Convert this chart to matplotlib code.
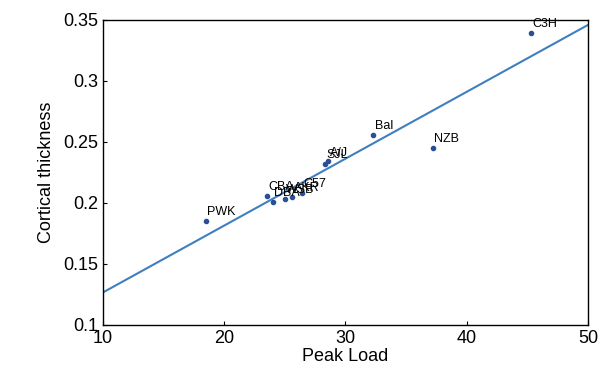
import numpy as np
import matplotlib
matplotlib.use("Agg")
import matplotlib.pyplot as plt

plt.rcParams['font.family'] = ['Liberation Sans', 'DejaVu Sans']

# strain means
strains = ["PWK", "CBA", "DBA", "WSB", "AKR", "C57", "SJL", "A/J", "Bal", "NZB", "C3H"]
peak_load = [18.5, 23.5, 24.0, 25.0, 25.6, 26.4, 28.3, 28.6, 32.3, 37.2, 45.3]
cort_thick = [0.185, 0.206, 0.201, 0.203, 0.205, 0.208, 0.232, 0.234, 0.256, 0.245, 0.339]

x_ticks = [10, 20, 30, 40, 50]
y_ticks = [0.1, 0.15, 0.2, 0.25, 0.3, 0.35]
y_tick_labels = ["0.1", "0.15", "0.2", "0.25", "0.3", "0.35"]

fig = plt.figure(figsize=(6.05, 3.89), dpi=100)
ax = fig.add_axes([0.170, 0.165, 0.802, 0.784])

# linear fit through the strain means
slope, icpt = np.polyfit(peak_load, cort_thick, 1)
xs = np.array([10, 50])
ax.plot(xs, slope * xs + icpt, color='#3f7fbf', lw=1.5, zorder=2)

ax.plot(peak_load, cort_thick, 'o', ms=3, color='#2b4f94', zorder=3)
for name, px, py in zip(strains, peak_load, cort_thick):
    ax.annotate(name, (px, py), xytext=(1, 2), textcoords='offset points',
                fontsize=9, ha='left', va='bottom', color='black')

ax.set_xlim(10, 50)
ax.set_ylim(0.1, 0.35)
ax.set_xticks(x_ticks)
ax.set_yticks(y_ticks)
ax.set_yticklabels(y_tick_labels)
ax.tick_params(direction='in', length=3, labelsize=13, top=False, right=False)
ax.set_xlabel("Peak Load", fontsize=13, labelpad=1)
ax.set_ylabel("Cortical thickness", fontsize=13, labelpad=6)
for s in ax.spines.values():
    s.set_linewidth(1.0)

fig.savefig("out.png", dpi=100)
